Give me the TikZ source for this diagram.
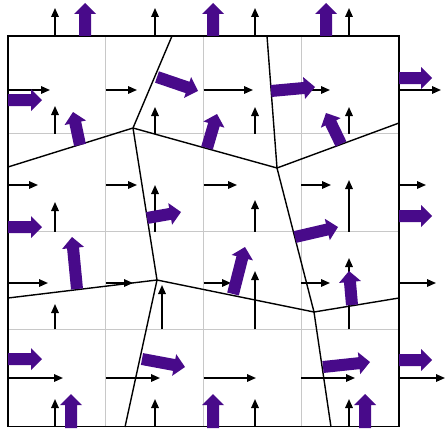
\documentclass[tikz,border=0pt]{standalone}
\usetikzlibrary{arrows.meta,calc}
\definecolor{partpurple}{RGB}{72,10,138}
\definecolor{gridgray}{RGB}{200,200,200}
\tikzset{
  gridline/.style={draw=gridgray, line width=0.6pt},
  boxline/.style={draw=black, line width=1.8pt},
  cellline/.style={draw=black, line width=1.4pt, line join=round},
  velarrow/.style={draw=black, line width=1.6pt, -{Triangle[length=9pt,width=7.5pt]}},
  partfill/.style={fill=partpurple}
}
\newcommand\partarrow[2]{%
  \coordinate (pa) at (#1);
  \coordinate (pb) at (#2);
  \coordinate (pn) at ($(pb)!11pt!(pa)$);
  \path[partfill] ($(pa)!6pt!90:(pb)$) -- ($(pn)!6pt!90:(pb)$) -- ($(pn)!11pt!90:(pb)$) -- (pb)
    -- ($(pn)!11pt!-90:(pb)$) -- ($(pn)!6pt!-90:(pb)$) -- ($(pa)!6pt!-90:(pb)$) -- cycle;
}
\begin{document}
\begin{tikzpicture}[x=1pt,y=-1pt]
\useasboundingbox (0,0) rectangle (446,428);
% grid
\foreach \g in {105.75,203.5,301.25} {
  \draw[gridline] (\g,36) -- (\g,426.5);
  \draw[gridline] (8,{\g+28}) -- (399,{\g+28});
}
% Voronoi cells
\coordinate (A) at (133,128);
\coordinate (B) at (157,280);
\coordinate (C) at (277,168);
\coordinate (D) at (314,312);
\coordinate (t1) at (172,36);
\coordinate (t2) at (267,36);
\coordinate (l1) at (8,167);
\coordinate (l2) at (8,298);
\coordinate (r1) at (399,123);
\coordinate (r2) at (399,298);
\coordinate (b1) at (125,427);
\coordinate (b2) at (331,427);
\draw[cellline] (t1) -- (A) -- (l1);
\draw[cellline] (A) -- (B) -- (l2);
\draw[cellline] (A) -- (C) -- (t2);
\draw[cellline] (C) -- (r1);
\draw[cellline] (C) -- (D) -- (r2);
\draw[cellline] (B) -- (D) -- (b2);
\draw[cellline] (B) -- (b1);
% box
\draw[boxline] (8,36) rectangle (399,426.5);
% horizontal velocity arrows
\foreach \y/\a/\b/\c/\d/\e in {90/50/137/253/330/441, 185/38/137/237/331/426, 283/48/133/231/330/436, 378/63/160/256/355/445} {
  \draw[velarrow] (8,\y) -- (\a,\y);
  \draw[velarrow] (105.75,\y) -- (\b,\y);
  \draw[velarrow] (203.5,\y) -- (\c,\y);
  \draw[velarrow] (301.25,\y) -- (\d,\y);
  \draw[velarrow] (399,\y) -- (\e,\y);
}
% vertical velocity arrows
\foreach \y/\xb/\a/\b/\c/\d in {36/155/8/8/8/8, 133.75/155/106/107/107/107, 231.5/155/202/185/200/180, 329.25/162/304/285/271/258, 427/155/399/399/399/399} {
  \draw[velarrow] (55,\y) -- (55,\a);
  \draw[velarrow] (\xb,\y) -- (\xb,\b);
  \draw[velarrow] (255,\y) -- (255,\c);
  \draw[velarrow] (349,\y) -- (349,\d);
}
% particles
\partarrow{85,36}{85,3}
\partarrow{213,36}{213,3}
\partarrow{326,36}{326,3}
\partarrow{8,100}{42,100}
\partarrow{80,145}{73,112}
\partarrow{157,77}{198,91}
\partarrow{207,148}{217,114}
\partarrow{271,91}{315,87}
\partarrow{341,144}{326,113}
\partarrow{399,78}{432,78}
\partarrow{8,227}{42,227}
\partarrow{147,218}{181,212}
\partarrow{295,237}{338,227}
\partarrow{399,216}{432,216}
\partarrow{77,289}{72,237}
\partarrow{233,294}{245,247}
\partarrow{352,305}{349,271}
\partarrow{8,359}{42,359}
\partarrow{71,428}{71,394}
\partarrow{142,359}{185,367}
\partarrow{213,428}{213,394}
\partarrow{323,367}{370,362}
\partarrow{365,428}{365,394}
\partarrow{399,360}{432,360}
\end{tikzpicture}
\end{document}
